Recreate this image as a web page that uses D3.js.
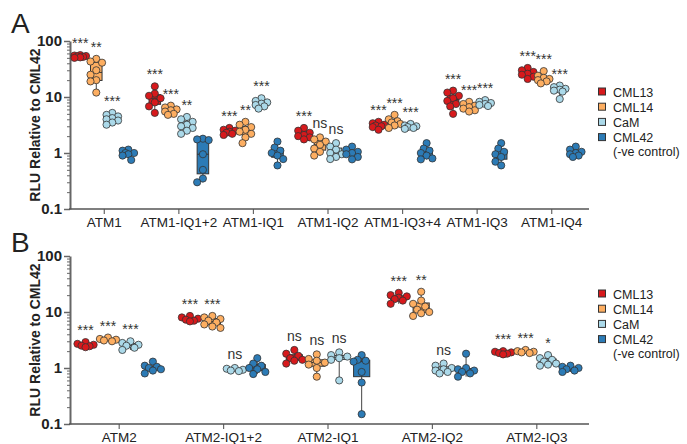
<!DOCTYPE html>
<html><head><meta charset="utf-8">
<script src="https://cdn.jsdelivr.net/npm/d3@7"></script>
<style>body{margin:0;background:#fff}</style>
</head><body>
<script>
// ---------- DATA ----------
const seriesNames = ["CML13", "CML14", "CaM", "CML42"];
const legendLabels = ["CML13", "CML14", "CaM", "CML42", "(-ve control)"];
const seriesColors = ["#d7191c", "#fdae61", "#abd9e9", "#2c7bb6"];
const yMajorTicks = [0.1, 1, 10, 100];
const yTickLabels = ["0.1", "1", "10", "100"];

const categoriesA = ["ATM1", "ATM1-IQ1+2", "ATM1-IQ1", "ATM1-IQ2", "ATM1-IQ3+4", "ATM1-IQ3", "ATM1-IQ4"];
const valuesA = [
  [[52, 54, 55, 50, 53, 56, 51], [48, 43, 41, 30, 25, 20, 19, 12], [5.2, 4.8, 4.5, 4.2, 4.0, 3.8, 3.5, 3.2], [1.15, 1.1, 1.0, 1.0, 0.95, 0.9, 0.75]],
  [[15.5, 11.5, 10.5, 9.5, 8, 6.8, 5.2], [7.0, 6.5, 6.0, 5.8, 5.5, 5.0, 4.8], [4.4, 4.0, 3.6, 3.2, 3.0, 2.8, 2.5, 2.2], [1.8, 1.75, 1.7, 0.95, 0.5, 0.35, 0.3]],
  [[2.8, 2.6, 2.5, 2.4, 2.3, 2.2, 2.1], [3.6, 3.2, 2.9, 2.6, 2.4, 2.2, 1.9, 1.5], [9.5, 8.5, 8.0, 7.6, 7.2, 6.8, 6.2], [1.6, 1.25, 1.1, 1.0, 0.9, 0.78, 0.6]],
  [[2.8, 2.5, 2.3, 2.1, 2.0, 1.9, 1.75], [1.9, 1.75, 1.6, 1.4, 1.2, 1.05, 0.9], [1.5, 1.3, 1.15, 1.0, 0.95, 0.85, 0.78], [1.3, 1.15, 1.05, 1.0, 0.95, 0.85, 0.77]],
  [[3.6, 3.4, 3.2, 3.1, 3.0, 2.9, 2.6], [4.8, 4.0, 3.7, 3.5, 3.3, 3.1, 2.8], [3.3, 3.1, 3.0, 2.9, 2.8, 2.7], [1.5, 1.2, 1.1, 1.0, 0.9, 0.8, 0.77]],
  [[13, 12, 10.5, 9.5, 8.5, 7.5, 6.8, 5.0], [8.2, 7.5, 7.0, 6.6, 6.2, 5.8, 5.5], [8.8, 8.2, 7.8, 7.5, 7.2, 6.9], [1.5, 1.2, 1.05, 0.95, 0.85, 0.7, 0.6]],
  [[33, 30, 28, 26, 25, 23, 21], [29, 24, 22, 21, 20, 19, 17.5], [16, 15, 14, 13.5, 13, 12.5, 9.2], [1.3, 1.15, 1.05, 1.0, 0.95, 0.9, 0.85]]
];
const sigA = [
  ["***", "**", "***", ""], ["***", "***", "**", ""], ["***", "**", "***", ""], ["***", "ns", "ns", ""],
  ["***", "***", "***", ""], ["***", "***", "***", ""], ["***", "***", "***", ""]
];

const categoriesB = ["ATM2", "ATM2-IQ1+2", "ATM2-IQ1", "ATM2-IQ2", "ATM2-IQ3"];
const valuesB = [
  [[2.9, 2.7, 2.6, 2.5, 2.45, 2.35], [3.5, 3.3, 3.2, 3.1, 3.0], [3.0, 2.8, 2.6, 2.5, 2.3, 2.1], [1.3, 1.1, 1.05, 1.0, 0.95, 0.9, 0.8]],
  [[8.5, 8.0, 7.6, 7.3, 7.0, 6.8], [8.5, 8.0, 7.5, 7.0, 6.5, 6.0, 5.5, 5.2], [1.0, 0.97, 0.93, 0.9, 0.88], [1.5, 1.2, 1.1, 1.0, 0.95, 0.85, 0.78]],
  [[2.1, 1.8, 1.65, 1.5, 1.4, 1.35, 1.2], [1.75, 1.45, 1.35, 1.25, 1.15, 1.0, 0.7], [1.9, 1.7, 1.6, 1.5, 1.4, 0.6], [1.7, 1.4, 1.35, 1.3, 0.85, 0.55, 0.15]],
  [[22, 20, 19, 18, 17, 16, 14], [23, 16, 14, 12.5, 11, 10, 9.5, 8.5], [1.2, 1.1, 1.0, 0.95, 0.9, 0.85, 0.8], [1.8, 1.0, 0.95, 0.9, 0.85, 0.8, 0.7]],
  [[2.0, 1.95, 1.9, 1.85, 1.8, 1.75], [2.1, 2.0, 1.95, 1.9, 1.85], [1.7, 1.5, 1.4, 1.3, 1.2, 1.15, 1.1], [1.1, 1.05, 1.0, 0.95, 0.9, 0.85]]
];
const sigB = [
  ["***", "***", "***", ""], ["***", "***", "ns", ""], ["ns", "ns", "ns", ""], ["***", "**", "ns", ""], ["***", "***", "*", ""]
];

// ---------- DRAW ----------
const FONT = "'Liberation Sans', Arial, Helvetica, sans-serif";
const svg = d3.select("body").append("svg").attr("width", 687).attr("height", 444)
  .style("font-family", FONT);

// compact swarm: offsets bounded to the box half-width, best-fit placement
function swarm(vals, y, r, maxDx) {
  const pts = vals.map(v => ({ v, py: y(v) })).sort((a, b) => a.py - b.py);
  const placed = [];
  const minD = r * 1.7;
  const cands = [0, -0.5, 0.5, -1, 1].map(k => k * maxDx);
  pts.forEach(p => {
    let best = 0, bestScore = -1;
    for (const dx of cands) {
      let md = Infinity;
      placed.forEach(q => { md = Math.min(md, Math.hypot(dx - q.dx, p.py - q.py)); });
      const score = Math.min(md, minD);
      if (score > bestScore + 0.01) { bestScore = score; best = dx; }
      if (md >= minD) break;
    }
    p.dx = best;
    placed.push(p);
  });
  return pts;
}

function panel(cfg) {
  const g = svg.append("g");
  const x = d3.scaleBand().domain(cfg.cats).range([67, 589]);
  const sub = d3.scaleBand().domain(seriesNames).range([-x.step() * 0.43, x.step() * 0.43]);
  const y = d3.scaleLog().domain([0.1, 100]).range([cfg.yBot, cfg.yTop]);
  const bw = sub.bandwidth() * 0.72;
  const r = 3.6;

  g.append("text").attr("x", 11).attr("y", cfg.letterY).attr("font-size", 28).attr("fill", "#222").text(cfg.letter);

  const minor = [];
  for (let d = 0.1; d < 100; d *= 10) for (let m = 2; m <= 9; m++) minor.push(+(d * m).toPrecision(3));
  const yMinorAxis = d3.axisLeft(y).tickValues(minor).tickSize(3).tickFormat("").tickSizeOuter(0);
  const ya2 = g.append("g").attr("transform", "translate(70,0)").call(yMinorAxis);
  ya2.select(".domain").remove();
  ya2.selectAll("line").attr("stroke", "#666").attr("stroke-width", 1);

  const yAxis = d3.axisLeft(y).tickValues(yMajorTicks).tickSize(6).tickPadding(2).tickSizeOuter(0)
    .tickFormat((d, i) => yTickLabels[i]);
  const ya = g.append("g").attr("transform", "translate(70,0)").call(yAxis);
  ya.select(".domain").attr("stroke", "#666").attr("stroke-width", 2);
  ya.selectAll("line").attr("stroke", "#666").attr("stroke-width", 1.5);
  ya.selectAll("text").attr("font-size", 15).attr("font-weight", "bold").attr("fill", "#222").attr("font-family", FONT);

  g.append("text").attr("transform", `translate(40,${(cfg.yTop + cfg.yBot) / 2}) rotate(-90)`)
    .attr("text-anchor", "middle").attr("font-size", 14).attr("font-weight", "bold").attr("fill", "#222")
    .text("RLU Relative to CML42");

  const xAxis = d3.axisBottom(x).tickSize(5).tickPadding(3).tickSizeOuter(0);
  const xa = g.append("g").attr("transform", `translate(0,${cfg.yBot})`).call(xAxis);
  xa.select(".domain").remove();
  xa.selectAll("line").attr("stroke", "#666").attr("stroke-width", 1.2);
  xa.selectAll("text").attr("font-size", 13.5).attr("fill", "#222").attr("font-family", FONT);
  g.append("line").attr("x1", 69).attr("x2", 589).attr("y1", cfg.yBot).attr("y2", cfg.yBot)
    .attr("stroke", "#555").attr("stroke-width", 1.5);

  cfg.cats.forEach((cat, ci) => {
    seriesNames.forEach((s, si) => {
      const vals = cfg.vals[ci][si];
      const sorted = vals.slice().sort(d3.ascending);
      const q1 = d3.quantile(sorted, 0.25), med = d3.quantile(sorted, 0.5), q3 = d3.quantile(sorted, 0.75);
      const cx = x(cat) + x.bandwidth() / 2 + sub(s) + sub.bandwidth() / 2;
      const bg = g.append("g");
      bg.append("line").attr("x1", cx).attr("x2", cx).attr("y1", y(sorted[0])).attr("y2", y(sorted[sorted.length - 1]))
        .attr("stroke", "#444").attr("stroke-width", 1);
      bg.append("rect").attr("x", cx - bw / 2).attr("width", bw).attr("y", y(q3)).attr("height", Math.max(1, y(q1) - y(q3)))
        .attr("fill", seriesColors[si]).attr("stroke", "#333").attr("stroke-width", 1);
      bg.append("line").attr("x1", cx - bw / 2).attr("x2", cx + bw / 2).attr("y1", y(med)).attr("y2", y(med))
        .attr("stroke", "#333").attr("stroke-width", 1);
      const pts = swarm(vals, y, r, bw / 2);
      bg.selectAll("circle").data(pts).join("circle")
        .attr("cx", d => cx + d.dx).attr("cy", d => d.py).attr("r", r)
        .attr("fill", seriesColors[si]).attr("stroke", "#333").attr("stroke-width", 0.8);
      const lab = cfg.sig[ci][si];
      if (lab) {
        const top = y(sorted[sorted.length - 1]);
        g.append("text").attr("x", cx).attr("y", lab === "ns" ? top - 9 : top - 7)
          .attr("text-anchor", "middle").attr("font-size", 14).attr("fill", "#333")
          .text(lab);
      }
    });
  });

  const lg = g.append("g");
  seriesNames.forEach((s, i) => {
    const cy = cfg.legendY + i * 15.2;
    lg.append("rect").attr("x", 598.5).attr("y", cy - 4).attr("width", 7).attr("height", 7)
      .attr("fill", seriesColors[i]).attr("stroke", "#333").attr("stroke-width", 1);
    lg.append("text").attr("x", 613).attr("y", cy + 4.5).attr("font-size", 12.5).attr("fill", "#222").text(legendLabels[i]);
  });
  lg.append("text").attr("x", 613).attr("y", cfg.legendY + 3 * 15.2 + 13.5 + 4.5).attr("font-size", 12.5).attr("fill", "#222").text(legendLabels[4]);
}

panel({ cats: categoriesA, vals: valuesA, sig: sigA, yTop: 41, yBot: 209, letter: "A", letterY: 33, legendY: 92 });
panel({ cats: categoriesB, vals: valuesB, sig: sigB, yTop: 256, yBot: 424, letter: "B", letterY: 252, legendY: 294 });
</script>
</body></html>
